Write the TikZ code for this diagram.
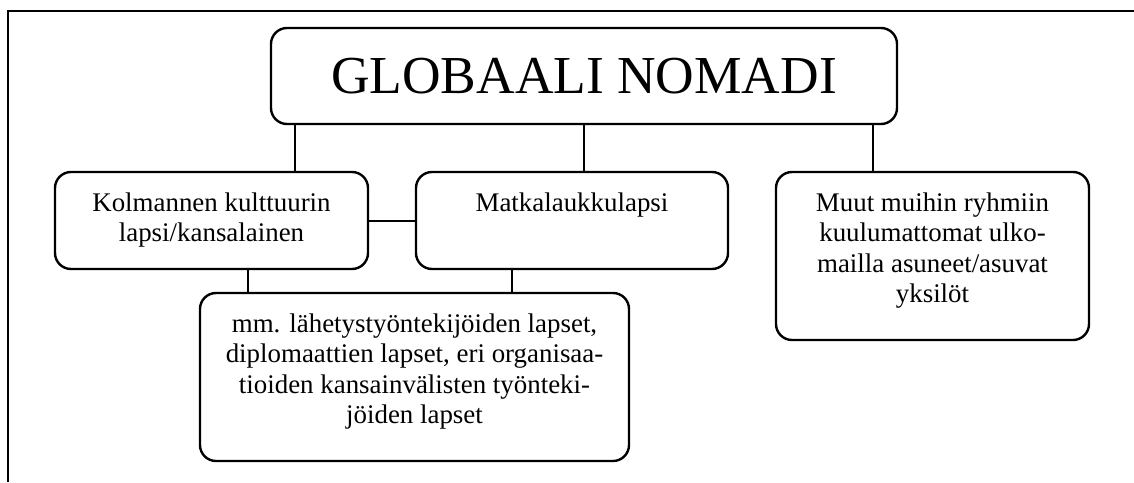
\documentclass[tikz,border=0pt]{standalone}
\usepackage{fontspec}
\setmainfont{Liberation Serif}
\usetikzlibrary{positioning}

\newcommand{\intext}[3]{\parbox[c][#2][t]{#1}{\centering\vspace*{10.5pt}#3}}

\begin{document}
\begin{tikzpicture}[x=1pt,y=1pt,line width=1pt,
  box node/.style={draw,line width=1.2pt,rounded corners=8pt,inner sep=0pt,font=\fontsize{13.45}{15.15}\selectfont},
  title node/.style={box node,minimum width=313pt,minimum height=48pt,font=\fontsize{26.7}{30}\selectfont}]

            \useasboundingbox (0,0) rectangle (567,-241);
            \draw (4,-241) -- (4,-5.5) -- (567,-5.5);

            \node[title node] (1) at (292,-38) {GLOBAALI NOMADI};
            \node[box node] (2) at (105.75,-110.25) {\intext{156.5pt}{48.5pt}{Kolmannen kulttuurin\\lapsi/kansalainen}};
            \node[box node] (3) at (286,-110.25) {\intext{156pt}{48.5pt}{Matkalaukkulapsi}};
            \node[box node] (4) at (466.25,-128) {\intext{156.5pt}{84pt}{Muut muihin ryhmiin\\kuulumattomat ulko-\\mailla asuneet/asuvat\\yksilöt}};
            \node[box node] (5) at (207.25,-188.5) {\intext{214.5pt}{84pt}{mm. lähetystyöntekijöiden lapset,\\diplomaattien lapset, eri organisaa-\\tioiden kansainvälisten työnteki-\\jöiden lapset}};

            \draw[-] ([xshift=12.5pt]1.south west) to ([xshift=12.5pt]1.south west |- 2.north);
            \draw[-] (1.south) to (1.south |- 3.north);
            \draw[-] ([xshift=-12.5pt]1.south east) to ([xshift=-12.5pt]1.south east |- 4.north);
            \draw[-] (2.east) to (3.west);
            \draw[-] ([xshift=18.25pt]2.south) to ([xshift=18.25pt]2.south |- 5.north);
            \draw[-] ([xshift=-30pt]3.south) to ([xshift=-30pt]3.south |- 5.north);

\end{tikzpicture}
\end{document}
